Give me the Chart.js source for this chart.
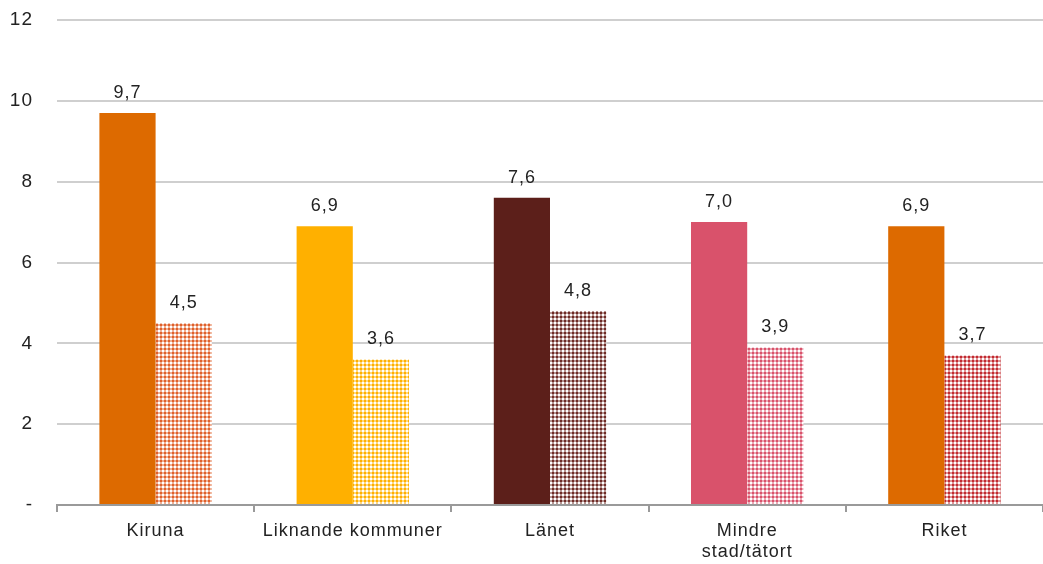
<!DOCTYPE html>
<html>
<head>
<meta charset="utf-8">
<script src="https://cdn.jsdelivr.net/npm/chart.js@4/dist/chart.umd.min.js"></script>
<style>
    html, body { margin: 0; padding: 0; background: #fff; }
    canvas { display: block; }
</style>
</head>
<body>
<canvas id="chart" width="1043" height="564"></canvas>
<script>
// =========================
// DATA
// =========================
const categories = ['Kiruna', 'Liknande kommuner', 'Länet', ['Mindre', 'stad/tätort'], 'Riket'];
const solidValues = [9.7, 6.9, 7.6, 7.0, 6.9];
const patternValues = [4.5, 3.6, 4.8, 3.9, 3.7];
const yTicks = [0, 2, 4, 6, 8, 10, 12];

// =========================
// COLORS
// =========================
const solidColors = ['#DD6A00', '#FFB000', '#5C1F1A', '#D9526B', '#DD6A00'];
const patternColors = ['#E0602A', '#FFB000', '#6E2B26', '#D9526B', '#C22A30'];

// checker pattern: dark dots, light lines, white squares (4px tile)
function makePattern(color) {
    const c = document.createElement('canvas');
    c.width = 4;
    c.height = 4;
    const ctx = c.getContext('2d');
    ctx.fillStyle = '#ffffff';
    ctx.fillRect(0, 0, 4, 4);
    ctx.globalAlpha = 0.5;
    ctx.fillStyle = color;
    ctx.fillRect(0, 0, 4, 4);
    ctx.globalAlpha = 1;
    ctx.fillRect(0, 0, 2, 2);
    ctx.fillStyle = '#ffffff';
    ctx.fillRect(2, 2, 2, 2);
    return ctx.createPattern(c, 'repeat');
}

const FONT = 'Liberation Sans, Arial, sans-serif';

// slightly wider text, like the original
const spacing = {
    id: 'spacing',
    beforeDraw(chart) {
        chart.ctx.letterSpacing = '1px';
    },
};

// value labels above bars, comma decimal
const valueLabels = {
    id: 'valueLabels',
    afterDatasetsDraw(chart) {
        const ctx = chart.ctx;
        ctx.save();
        ctx.font = '18px ' + FONT;
        ctx.fillStyle = '#222';
        ctx.textAlign = 'center';
        ctx.textBaseline = 'bottom';
        chart.data.datasets.forEach((ds, di) => {
            chart.getDatasetMeta(di).data.forEach((bar, i) => {
                const txt = ds.data[i].toFixed(1).replace('.', ',');
                ctx.fillText(txt, bar.x, bar.y - 11);
            });
        });
        ctx.restore();
    },
};

new Chart(document.getElementById('chart'), {
    type: 'bar',
    data: {
        labels: categories,
        datasets: [
            {
                data: solidValues,
                backgroundColor: solidColors,
                borderWidth: 0,
                barPercentage: 1,
                categoryPercentage: 0.57,
            },
            {
                data: patternValues,
                backgroundColor: patternColors.map(makePattern),
                borderWidth: 0,
                barPercentage: 1,
                categoryPercentage: 0.57,
            },
        ],
    },
    options: {
        responsive: false,
        animation: false,
        layout: { padding: { top: 20, right: 0, bottom: 0, left: 0 } },
        plugins: {
            legend: { display: false },
            tooltip: { enabled: false },
        },
        scales: {
            x: {
                grid: {
                    drawOnChartArea: false,
                    drawTicks: true,
                    tickLength: 7,
                    color: '#9a9a9a',
                    lineWidth: 2,
                },
                border: { display: true, color: '#9a9a9a', width: 2 },
                ticks: {
                    color: '#222',
                    font: { family: FONT, size: 18 },
                    padding: 8,
                    lineHeight: 1.3,
                    maxRotation: 0,
                    autoSkip: false,
                },
                afterFit: (axis) => { axis.height = 59; },
            },
            y: {
                min: 0,
                max: 12,
                afterBuildTicks: (axis) => {
                    axis.ticks = yTicks.map((v) => ({ value: v }));
                },
                grid: {
                    color: '#cfcfcf',
                    lineWidth: 2,
                    drawTicks: false,
                },
                border: { display: false },
                ticks: {
                    color: '#222',
                    font: { family: FONT, size: 19 },
                    padding: 24,
                    callback: (v) => (v === 0 ? '-' : v),
                },
                afterFit: (axis) => {
                    axis.width = 57;
                    axis.paddingTop = 0;
                    axis.paddingBottom = 0;
                },
            },
        },
    },
    plugins: [spacing, valueLabels],
});
</script>
</body>
</html>
